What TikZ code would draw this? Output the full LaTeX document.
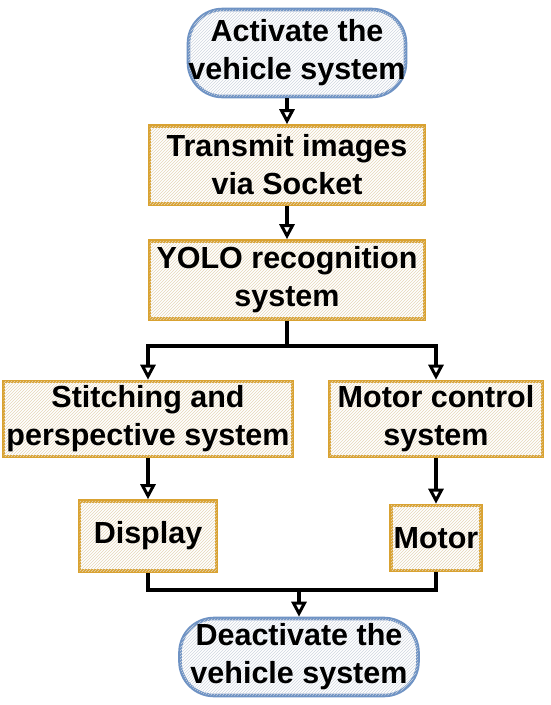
\documentclass[tikz,border=0pt]{standalone}
\usepackage{fontspec}
\setmainfont{Liberation Sans}
\usetikzlibrary{patterns,arrows.meta}
\definecolor{boxor}{HTML}{D9A231}
\definecolor{pillbl}{HTML}{6F93C4}
\definecolor{hatchor}{HTML}{E6D6B8}
\definecolor{hatchbl}{HTML}{CFD6E0}
\tikzset{
  base/.style={font=\fontsize{30.5}{38}\selectfont\bfseries, align=center, inner sep=0pt, line width=3.6pt},
  procbox/.style={base, draw=boxor, fill=white, postaction={pattern=north east lines, pattern color=hatchor}},
  pill/.style={base, draw=pillbl, rounded corners=34pt, fill=white, postaction={pattern=north east lines, pattern color=hatchbl}},
  conn/.style={line width=3.4pt, black},
  arr/.style={conn, -{Triangle[open, length=15pt, width=15pt, line width=3pt]}}
}
\begin{document}
\begin{tikzpicture}[x=1pt,y=-1pt]
\useasboundingbox (0,0) rectangle (550,705);
\node[pill, minimum width=217pt, minimum height=87pt] (act) at (297,53) {Activate the\\vehicle system};
\node[procbox, minimum width=275pt, minimum height=78pt] (tx) at (287,165) {Transmit images\\via Socket};
\node[procbox, minimum width=275pt, minimum height=78pt] (yolo) at (287,280) {YOLO recognition\\system};
\node[procbox, minimum width=289pt, minimum height=75pt] (st) at (148,419) {Stitching and\\perspective system};
\node[procbox, minimum width=213pt, minimum height=75pt] (mc) at (436,419) {Motor control\\system};
\node[procbox, minimum width=137pt, minimum height=70pt] (disp) at (148,536) {Display};
\node[procbox, minimum width=90pt, minimum height=65pt] (mot) at (436,538) {Motor};
\node[pill, minimum width=238pt, minimum height=77pt] (deact) at (299,657) {Deactivate the\\vehicle system};
\coordinate (split) at (287,346);
\coordinate (merge) at (299,590);
\draw[arr] (act.south -| tx.north) -- (tx.north);
\draw[arr] (tx.south) -- (yolo.north);
\draw[conn] (yolo.south) -- (split);
\draw[arr] (split) -| (st.north);
\draw[arr] (split) -| (mc.north);
\draw[arr] (st.south) -- (disp.north);
\draw[arr] (mc.south) -- (mot.north);
\draw[conn] (disp.south) |- (merge);
\draw[conn] (mot.south) |- (merge);
\draw[arr] (merge) -- (deact.north);
\end{tikzpicture}
\end{document}
